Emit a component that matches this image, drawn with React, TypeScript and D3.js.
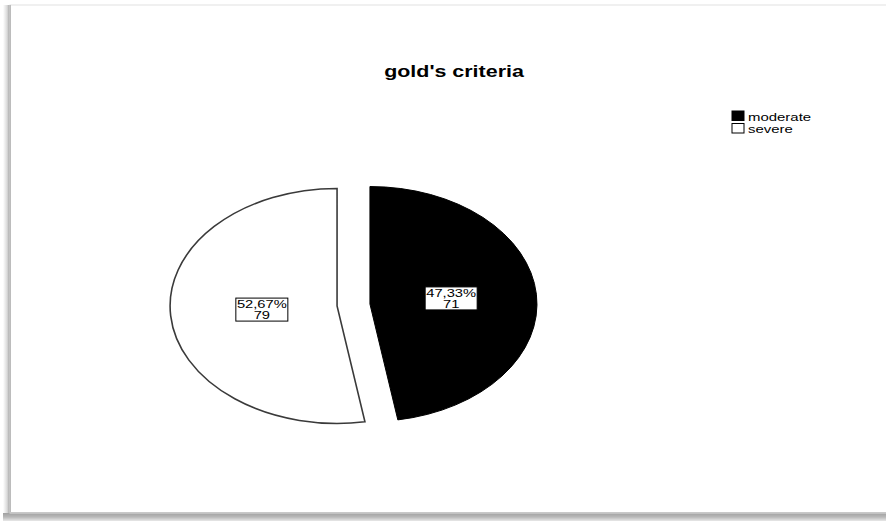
import React from "react";
import * as d3 from "d3";

const categories = ["moderate", "severe"];
const counts = [71, 79];
const percentLabels = ["47,33%", "52,67%"];
const colors = ["#000000", "#ffffff"];
const title = "gold's criteria";

const W = 886;
const H = 521;
const cx = 353.5;
const cy = 305;
const rx = 167;
const ry = 117.5;
const explode = 16.5;
const sx = 1.3;
const FONT = "'Liberation Sans', Arial, sans-serif";

function StretchText({ x, y, children, size, weight, anchor, sxx }: any) {
  return (
    <g transform={`translate(${x},${y}) scale(${sxx || sx},1)`}>
      <text
        x={0}
        y={0}
        fontFamily={FONT}
        fontSize={size}
        fontWeight={weight || "normal"}
        textAnchor={anchor || "start"}
        fill="#000"
      >
        {children}
      </text>
    </g>
  );
}

export default function App() {
  const pie = d3
    .pie<number>()
    .sort(null)
    .startAngle(0)
    .endAngle(2 * Math.PI)
    .value((d) => d);
  const arcs = pie(counts);
  const arc = d3.arc<d3.PieArcDatum<number>>().innerRadius(0).outerRadius(1);

  return (
    <div style={{ position: "fixed", left: 0, top: 0, width: W, height: H, background: "#fff" }}>
      <svg width={W} height={H} style={{ display: "block" }}>
        <defs>
          <linearGradient id="shL" x1="0" x2="1" y1="0" y2="0">
            <stop offset="0" stopColor="#fff" />
            <stop offset="0.6" stopColor="#d8d8d8" />
            <stop offset="1" stopColor="#9a9a9a" />
          </linearGradient>
          <linearGradient id="shB" x1="0" x2="0" y1="0" y2="1">
            <stop offset="0" stopColor="#a0a0a0" />
            <stop offset="0.5" stopColor="#b8b8b8" />
            <stop offset="1" stopColor="#e8e8e8" />
          </linearGradient>
        </defs>
        {/* frame and shadow */}
        <rect x={3} y={5} width={7} height={516} fill="url(#shL)" />
        <rect x={3} y={513} width={W} height={8} fill="url(#shB)" />
        <rect x={10} y={5} width={W} height={508} fill="#fff" stroke="#e2e2e2" strokeWidth={1} />
        <line x1={10.5} y1={5} x2={10.5} y2={513} stroke="#bcbcbc" />
        <line x1={10} y1={512.5} x2={W} y2={512.5} stroke="#c8c8c8" />

        {/* title */}
        <StretchText x={454} y={77} size={16.5} weight="bold" anchor="middle">
          {title}
        </StretchText>

        {/* pie */}
        {arcs.map((a, i) => {
          const mid = (a.startAngle + a.endAngle) / 2;
          const ox = cx + explode * Math.sin(mid);
          const oy = cy - explode * Math.cos(mid) * (ry / rx);
          return (
            <g key={i} transform={`translate(${ox},${oy}) scale(${rx},${ry})`}>
              <path
                d={arc(a) || ""}
                fill={colors[i]}
                stroke={i === 0 ? "#000" : "#3a3a3a"}
                strokeWidth={i === 0 ? 1 : 1.6}
                vectorEffect="non-scaling-stroke"
                strokeLinejoin="miter"
              />
            </g>
          );
        })}

        {/* labels */}
        {arcs.map((a, i) => {
          const mid = (a.startAngle + a.endAngle) / 2;
          const ox = cx + explode * Math.sin(mid);
          const oy = cy - explode * Math.cos(mid) * (ry / rx);
          const f = 0.47;
          const lx = ox + f * rx * Math.sin(mid) + 3;
          const ly = oy - f * ry * Math.cos(mid) - 1;
          const bw = 52;
          const bh = 23;
          return (
            <g key={"l" + i}>
              <rect
                x={lx - bw / 2}
                y={ly - bh / 2}
                width={bw}
                height={bh}
                fill="#fff"
                stroke="#000"
                strokeWidth={1}
              />
              <StretchText x={lx} y={ly - 1.5} size={10.5} anchor="middle" sxx={1.4}>
                {percentLabels[i]}
              </StretchText>
              <StretchText x={lx} y={ly + 9.5} size={10.5} anchor="middle" sxx={1.4}>
                {String(counts[i])}
              </StretchText>
            </g>
          );
        })}

        {/* legend */}
        {categories.map((c, i) => (
          <g key={"lg" + i}>
            <rect
              x={732}
              y={111 + i * 12.5}
              width={12}
              height={9.5}
              fill={colors[i]}
              stroke="#000"
              strokeWidth={1}
            />
            <StretchText x={748} y={120.5 + i * 12.5} size={11.5}>
              {c}
            </StretchText>
          </g>
        ))}
      </svg>
    </div>
  );
}
